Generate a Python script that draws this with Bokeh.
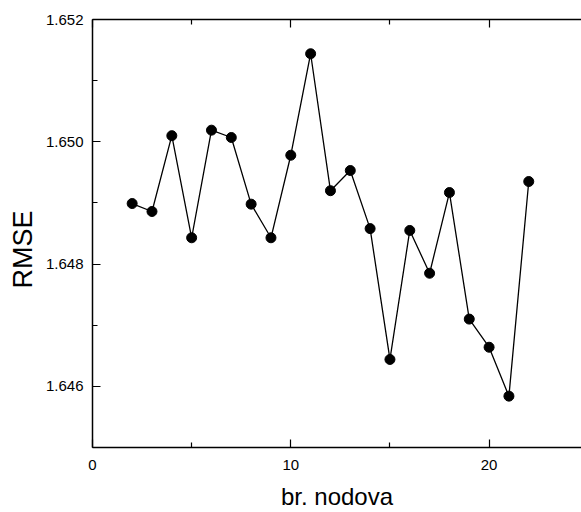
from bokeh.plotting import figure
from bokeh.models import LinearAxis, FixedTicker, PrintfTickFormatter, Range1d, Title
from bokeh.embed import file_html
from bokeh.resources import INLINE

nodes = [2, 3, 4, 5, 6, 7, 8, 9, 10, 11, 12, 13, 14, 15, 16, 17, 18, 19, 20, 21, 22]
rmse = [1.64899, 1.64886, 1.65010, 1.64843, 1.65019, 1.65007, 1.64898, 1.64843,
        1.64978, 1.65144, 1.64920, 1.64953, 1.64858, 1.64644, 1.64855, 1.64785,
        1.64917, 1.64710, 1.64664, 1.64584, 1.64935]
x_ticks = [0, 10, 20]
x_minor = [5, 15]
y_ticks = [1.646, 1.648, 1.650, 1.652]
y_minor = [1.645, 1.647, 1.649, 1.651]

FONT = "Liberation Sans"

p = figure(width=581, height=512, output_backend="svg", toolbar_location=None,
           x_range=Range1d(0, 24.66), y_range=Range1d(1.645, 1.652),
           x_axis_location=None, y_axis_location=None,
           min_border_left=92, min_border_right=0, min_border_top=19, min_border_bottom=65)
p.grid.visible = False
p.outline_line_color = None
p.background_fill_color = "white"
p.border_fill_color = "white"


def style(ax, labels=True):
    ax.axis_line_color = "black"
    ax.axis_line_width = 1.5
    ax.major_tick_line_color = "black"
    ax.minor_tick_line_color = "black"
    ax.major_tick_line_width = 1.2
    ax.minor_tick_line_width = 1.2
    ax.major_tick_in = 8
    ax.major_tick_out = 0
    ax.minor_tick_in = 5
    ax.minor_tick_out = 0
    ax.major_label_text_font = FONT
    ax.major_label_text_font_size = "15px"
    ax.major_label_text_color = "black"
    if not labels:
        ax.major_label_text_font_size = "0px"
        ax.major_label_text_color = None


xb = LinearAxis(ticker=FixedTicker(ticks=x_ticks, minor_ticks=x_minor))
style(xb)
xb.major_label_standoff = 12
xb.axis_label = "br. nodova"
xb.axis_label_text_font = FONT
xb.axis_label_text_font_size = "24px"
xb.axis_label_text_font_style = "normal"
xb.axis_label_text_color = "black"
xb.axis_label_standoff = 10
p.add_layout(xb, "below")

xt = LinearAxis(ticker=FixedTicker(ticks=x_ticks, minor_ticks=x_minor))
style(xt, labels=False)
xt.major_label_standoff = 0
p.add_layout(xt, "above")

yl = LinearAxis(ticker=FixedTicker(ticks=y_ticks, minor_ticks=y_minor),
                formatter=PrintfTickFormatter(format="%.3f"))
style(yl)
yl.major_label_standoff = 9
p.add_layout(yl, "left")

p.line(nodes, rmse, line_color="black", line_width=1.3)
p.scatter(nodes, rmse, size=10, fill_color="black", line_color="black")

ytitle = Title(text="RMSE", align="left", offset=159, standoff=9,
               text_font=FONT, text_font_size="27px", text_font_style="normal",
               text_color="black")
p.add_layout(ytitle, "left")

open("out.html", "w").write(file_html(p, INLINE))
